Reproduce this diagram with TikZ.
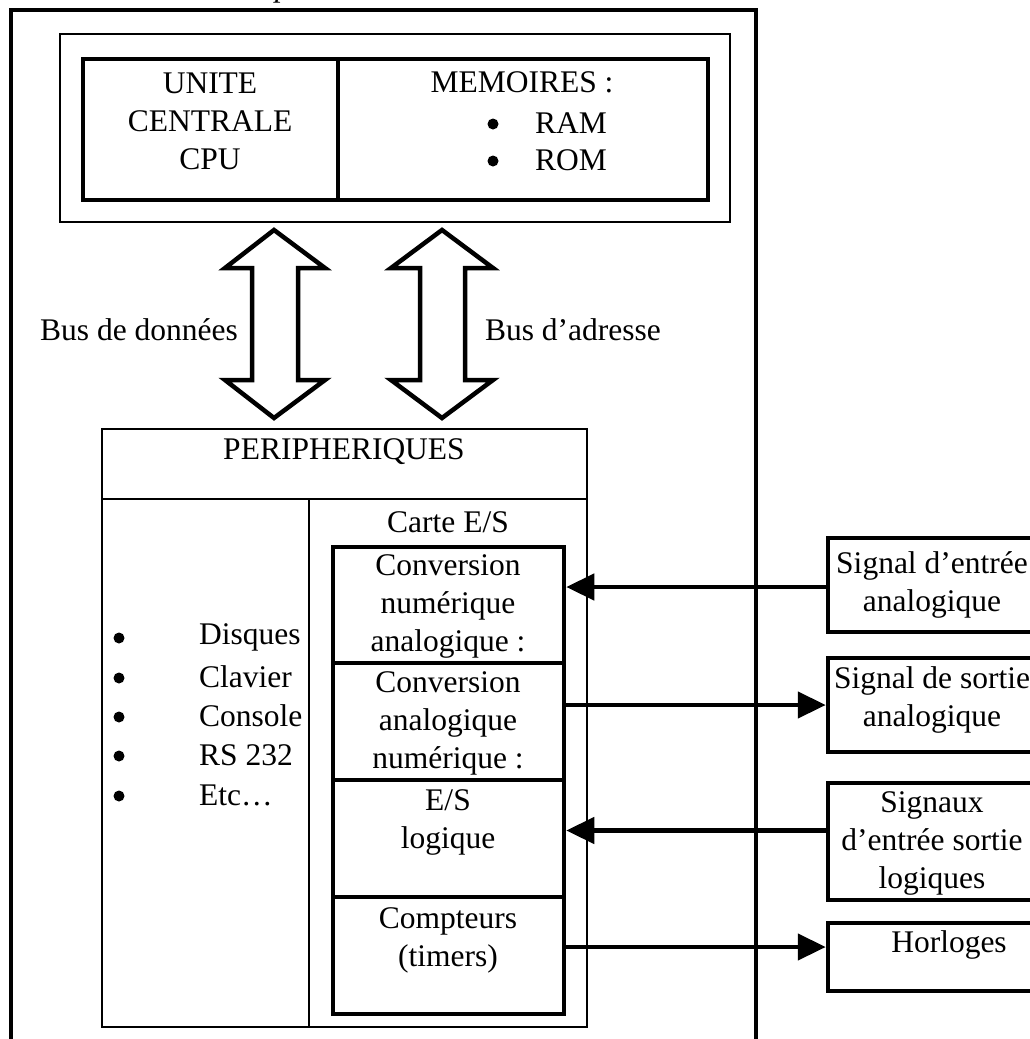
\documentclass[tikz,border=0pt]{standalone}
\usepackage{fontspec}
\setmainfont{Liberation Serif}
\usetikzlibrary{arrows.meta,calc}
\begin{document}
\begin{tikzpicture}[x=1pt,y=-1pt,
  thickbox/.style={draw, line width=4.5pt, rectangle, inner sep=0pt},
  thinbox/.style={draw, line width=2pt, rectangle, inner sep=0pt},
  txt/.style={inner sep=0pt, align=center, font=\fontsize{31.5}{38}\selectfont},
  dot/.style={circle, fill, inner sep=0pt, minimum size=11pt},
  bus/.style={draw, line width=4.5pt, line join=miter, miter limit=10},
  link/.style={line width=4.5pt, -{Triangle[length=28pt,width=26pt]}},
]
\useasboundingbox (0,0) rectangle (1030,1039);

% outer frame of the controller
\node[thickbox, minimum width=745pt, minimum height=1060pt] (frame) at (383.5,540) {};
% caption running above the frame
\node[inner sep=0pt, anchor=base, font=\fontsize{31.5}{38}\selectfont\itshape] (cap) at (283,-3.5) {p};

% CPU + memories
\node[thinbox, minimum width=670pt, minimum height=188pt] (zone) at (395,128) {};
\node[thickbox, minimum width=255pt, minimum height=141pt] (cpu) at (210.5,129.5) {};
\node[thickbox, minimum width=370pt, minimum height=141pt] (mem) at (523,129.5) {};
\node[txt] (cpuT) at (210,121) {UNITE\\CENTRALE\\CPU};
\node[txt] (memT) at (522,82) {MEMOIRES :};
\node[dot] (b1) at (493,124) {};
\node[dot] (b2) at (493,161) {};
\node[txt, anchor=west] (ram) at (535,123) {RAM};
\node[txt, anchor=west] (rom) at (535,160) {ROM};

% buses (double block arrows)
\draw[bus] (274,230) -- (325,268) -- (298,268) -- (298,380) -- (325,380) -- (274,418)
  -- (225,380) -- (252,380) -- (252,268) -- (225,268) -- cycle;
\draw[bus] (442,230) -- (493,268) -- (465,268) -- (465,380) -- (493,380) -- (442,418)
  -- (391,380) -- (420,380) -- (420,268) -- (391,268) -- cycle;
\node[txt] (busD) at (139,330) {Bus de données};
\node[txt] (busA) at (573,330) {Bus d’adresse};

% peripherals
\node[thinbox, minimum width=485pt, minimum height=70pt] (phead) at (344.5,464) {};
\node[thinbox, minimum width=207pt, minimum height=528pt] (plist) at (205.5,763) {};
\node[thinbox, minimum width=278pt, minimum height=528pt] (pcard) at (448,763) {};
\node[txt] (pT) at (344,452) {PERIPHERIQUES};
\node[txt] (cardT) at (448,522) {Carte E/S};

\foreach \y/\t [count=\i] in {637/Disques,677/Clavier,716/Console,755/RS 232,795/Etc…}{
  \node[dot] (lb\i) at (119,\y+1) {};
  \node[txt, anchor=west] (li\i) at (199,\y) {\t};
}

% I/O card modules
\node[thickbox, minimum width=231pt, minimum height=116pt] (conv1) at (448.5,605) {};
\node[thickbox, minimum width=231pt, minimum height=117pt] (conv2) at (448.5,721.5) {};
\node[thickbox, minimum width=231pt, minimum height=117pt] (esl) at (448.5,838.5) {};
\node[thickbox, minimum width=231pt, minimum height=117pt] (cpt) at (448.5,955.5) {};
\node[txt] (conv1T) at (448,606) {Conversion\\numérique\\analogique :};
\node[txt] (conv2T) at (448,723) {Conversion\\analogique\\numérique :};
\node[txt] (eslT) at (448,822) {E/S\\logique};
\node[txt] (cptT) at (448,940) {Compteurs\\(timers)};

% external signals
\node[thickbox, minimum width=208pt, minimum height=94pt] (s1) at (932,585) {};
\node[thickbox, minimum width=208pt, minimum height=94pt] (s2) at (932,705) {};
\node[thickbox, minimum width=208pt, minimum height=117pt] (s3) at (932,841.5) {};
\node[thickbox, minimum width=208pt, minimum height=68pt] (s4) at (932,957) {};
\node[txt] (s1T) at (932,585) {Signal d’entrée\\analogique};
\node[txt] (s2T) at (932,700) {Signal de sortie\\analogique};
\node[txt] (s3T) at (932,843) {Signaux\\d’entrée sortie\\logiques};
\node[txt] (s4T) at (949,945) {Horloges};

% signal connections
\draw[link] ($(s1.west)+(0,2)$) -- ($(s1.west -| conv1.east)+(0,2)$);
\draw[link] (conv2.east |- s2.west) -- (s2.west);
\draw[link] ($(s3.west)+(0,-11)$) -- ($(s3.west -| esl.east)+(0,-11)$);
\draw[link] ($(s4.west -| cpt.east)+(0,-10)$) -- ($(s4.west)+(0,-10)$);
\end{tikzpicture}
\end{document}
